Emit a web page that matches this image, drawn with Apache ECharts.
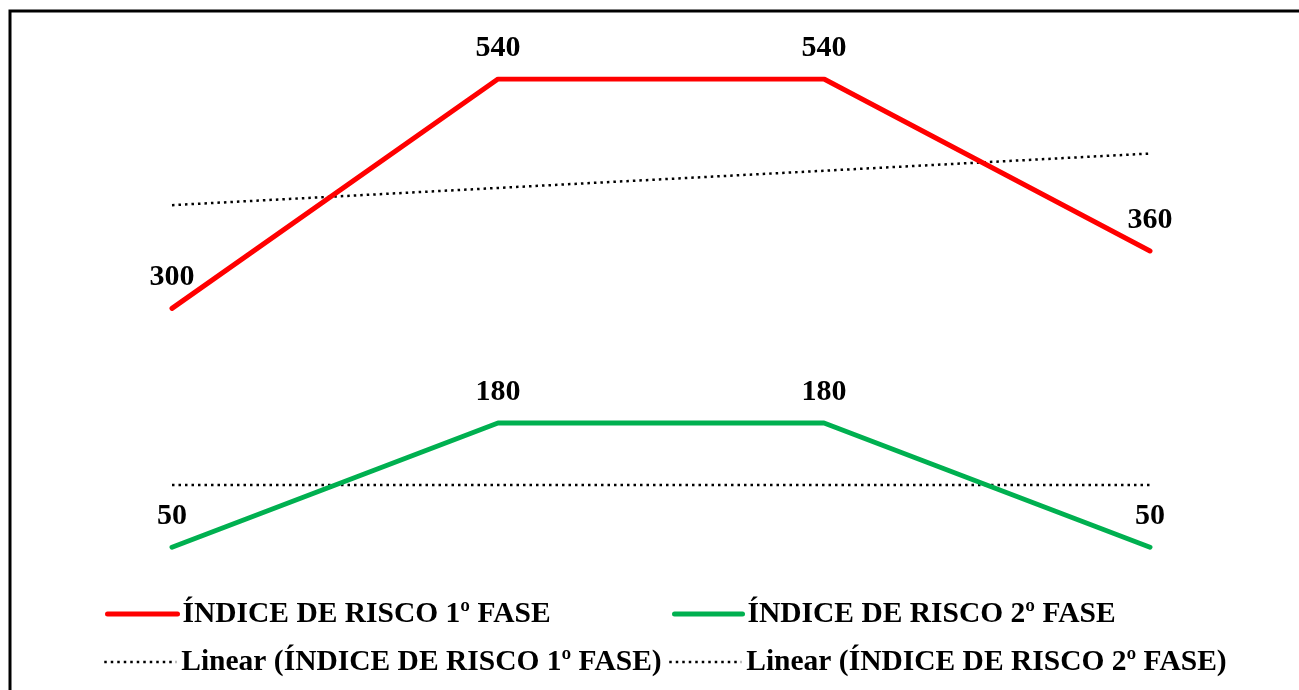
<!DOCTYPE html>
<html>
<head>
<meta charset="utf-8">
<script src="https://cdn.jsdelivr.net/npm/echarts@6/dist/echarts.min.js"></script>
<style>
  html, body { margin: 0; padding: 0; background: #fff; }
  #chart { width: 1299px; height: 690px; }
</style>
</head>
<body>
<div id="chart"></div>
<script>
// categorias (eixo oculto)
const categories = ['1', '2', '3', '4']
// valores
const fase1 = [300, 540, 540, 360]
const fase2 = [50, 180, 180, 50]
// linhas de tendência: pontas
const linear1 = [408, null, null, 462]
const linear2 = [115, null, null, 115]

const names = [
  'ÍNDICE DE RISCO 1º FASE',
  'ÍNDICE DE RISCO 2º FASE',
  'Linear (ÍNDICE DE RISCO 1º FASE)',
  'Linear (ÍNDICE DE RISCO 2º FASE)'
]

const font = 'Liberation Serif, Times New Roman, serif'

const chart = echarts.init(document.getElementById('chart'))

// uma legenda por item, posicionadas como no original
function legendAt(name, left, top, width, lineStyle) {
  return {
    data: [name],
    left: left,
    top: top,
    itemWidth: width,
    itemHeight: 14,
    padding: 0,
    selectedMode: false,
    itemStyle: { opacity: 0 },
    lineStyle: lineStyle,
    textStyle: {
      fontFamily: font,
      fontWeight: 'bold',
      fontSize: 29.5,
      color: '#000'
    }
  }
}

const labelStyle = {
  show: true,
  position: 'top',
  distance: 15,
  fontFamily: font,
  fontWeight: 'bold',
  fontSize: 30,
  color: '#000'
}

const solidLeg = { width: 5, cap: 'round' }
const dotLeg = { width: 2.5, type: [2.5, 4] }

const option = {
  backgroundColor: '#fff',
  animation: false,
  graphic: [{
    type: 'rect',
    shape: { x: 10, y: 11, width: 1320, height: 720 },
    style: { fill: 'none', stroke: '#000', lineWidth: 3 },
    silent: true
  }],
  legend: [
    legendAt(names[0], 105, 599, 70, solidLeg),
    legendAt(names[1], 672, 599, 68, solidLeg),
    legendAt(names[2], 103, 647, 72, dotLeg),
    legendAt(names[3], 668, 647, 72, dotLeg)
  ],
  grid: { left: 172, right: 149, top: 79, bottom: 95 },
  xAxis: {
    type: 'category',
    data: categories,
    boundaryGap: false,
    show: false
  },
  yAxis: {
    type: 'value',
    min: 0,
    max: 540,
    show: false
  },
  series: [
    {
      name: names[0],
      type: 'line',
      data: fase1,
      symbol: 'circle',
      symbolSize: 2,
      itemStyle: { color: '#ff0000' },
      lineStyle: { color: '#ff0000', width: 5, cap: 'round', join: 'round' },
      label: labelStyle,
      z: 3
    },
    {
      name: names[1],
      type: 'line',
      data: fase2,
      symbol: 'circle',
      symbolSize: 2,
      itemStyle: { color: '#00b050' },
      lineStyle: { color: '#00b050', width: 5, cap: 'round', join: 'round' },
      label: labelStyle,
      z: 3
    },
    {
      name: names[2],
      type: 'line',
      data: linear1,
      connectNulls: true,
      symbol: 'none',
      itemStyle: { color: '#000' },
      lineStyle: { color: '#000', width: 2.5, type: [2.5, 4] },
      z: 2
    },
    {
      name: names[3],
      type: 'line',
      data: linear2,
      connectNulls: true,
      symbol: 'none',
      itemStyle: { color: '#000' },
      lineStyle: { color: '#000', width: 2.5, type: [2.5, 4] },
      z: 2
    }
  ]
}

chart.setOption(option)
</script>
</body>
</html>
